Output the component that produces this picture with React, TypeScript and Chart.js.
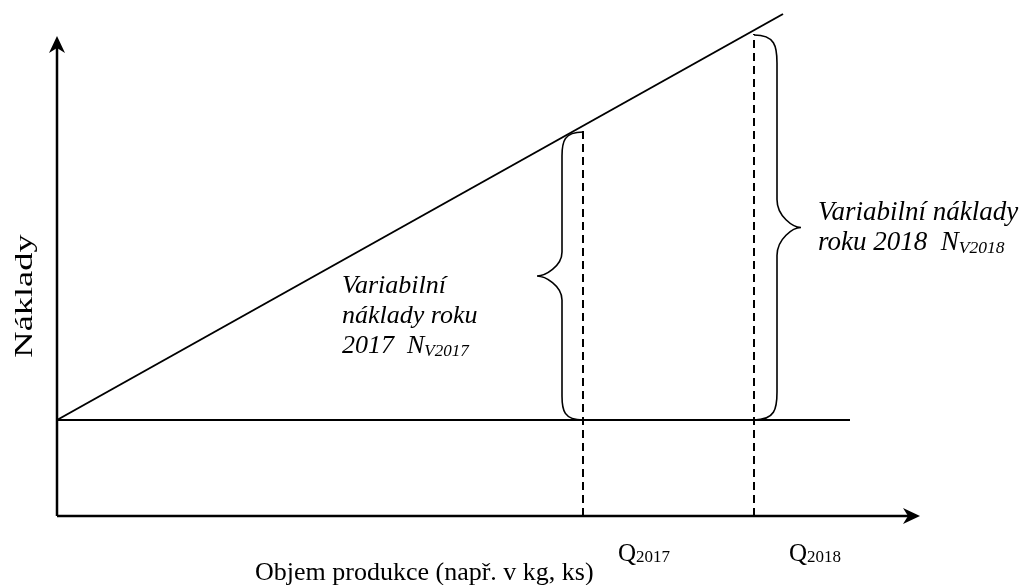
import React, { useEffect, useRef } from "react";
import { Chart, registerables } from "chart.js";

Chart.register(...registerables);

// ---- data (units: volume on x, cost on y; origin at the axes' corner) ----
const Q_YEARS = ["2017", "2018"];
const Q_VOLUMES = [526, 697];
const Q_COST_AT_LINE = [385, 482];
const BRACE_TOP_COST = [384, 481];
const FIXED_COST = 96;
const TOTAL_LINE_X = [0, 726];
const TOTAL_LINE_Y = [96, 502];
const FIXED_LINE_X = [0, 793];
const AXIS_X_END = 863;
const AXIS_Y_END = 480;

const X_MIN = -57;
const X_MAX = 967;
const Y_MIN = -69;
const Y_MAX = 516;

const FONT = '"Liberation Serif", "Times New Roman", serif';

const pts = (xs: number[], ys: number[]) => xs.map((x, i) => ({ x, y: ys[i] }));

const annotationPlugin = {
  id: "annotations",
  afterDatasetsDraw(chart: any) {
    const ctx: CanvasRenderingContext2D = chart.ctx;
    const xs = chart.scales.x;
    const ys = chart.scales.y;
    const px = (v: number) => xs.getPixelForValue(v);
    const py = (v: number) => ys.getPixelForValue(v);
    ctx.save();
    ctx.fillStyle = "#000";
    ctx.strokeStyle = "#000";

    // arrowheads
    const ox = px(0);
    const oy = py(0);
    const ty = py(AXIS_Y_END);
    ctx.beginPath();
    ctx.moveTo(ox, ty);
    ctx.lineTo(ox + 8, ty + 17);
    ctx.lineTo(ox, ty + 12);
    ctx.lineTo(ox - 8, ty + 17);
    ctx.closePath();
    ctx.fill();
    const tx = px(AXIS_X_END);
    ctx.beginPath();
    ctx.moveTo(tx, oy);
    ctx.lineTo(tx - 17, oy - 8);
    ctx.lineTo(tx - 12, oy);
    ctx.lineTo(tx - 17, oy + 8);
    ctx.closePath();
    ctx.fill();

    // braces
    const brace = (xEnd: number, yTop: number, yBot: number, dir: number, depth: number, tip: number, r: number) => {
      const xv = xEnd + dir * depth;
      const xt = xEnd + dir * tip;
      const ym = (yTop + yBot) / 2;
      ctx.beginPath();
      ctx.moveTo(xEnd, yTop);
      ctx.bezierCurveTo(xv - dir * 2, yTop, xv, yTop + r * 0.4, xv, yTop + r);
      ctx.lineTo(xv, ym - r);
      ctx.bezierCurveTo(xv, ym - r * 0.4, xt - dir * 8, ym, xt, ym);
      ctx.bezierCurveTo(xt - dir * 8, ym, xv, ym + r * 0.4, xv, ym + r);
      ctx.lineTo(xv, yBot - r);
      ctx.bezierCurveTo(xv, yBot - r * 0.4, xv - dir * 2, yBot, xEnd, yBot);
      ctx.lineWidth = 1.6;
      ctx.stroke();
    };
    brace(px(Q_VOLUMES[0]), py(BRACE_TOP_COST[0]), py(FIXED_COST), -1, 21, 46, 24);
    brace(px(Q_VOLUMES[1]), py(BRACE_TOP_COST[1]), py(FIXED_COST), 1, 23, 47, 28);

    // rich text helper
    const rich = (x: number, y: number, parts: [string, number, number][], italic: boolean) => {
      let cx = x;
      ctx.textBaseline = "alphabetic";
      ctx.textAlign = "left";
      for (const [t, size, dy] of parts) {
        ctx.font = `${italic ? "italic " : ""}${size}px ${FONT}`;
        ctx.fillText(t, cx, y + dy);
        cx += ctx.measureText(t).width;
      }
    };

    // Q labels
    Q_YEARS.forEach((yr, i) => {
      rich(px(Q_VOLUMES[i]) + 35, 561, [["Q", 25, 0], [yr, 17, 1]], false);
    });

    // variable cost labels
    rich(342, 293, [["Variabilní", 26, 0]], true);
    rich(342, 323, [["náklady roku", 26, 0]], true);
    rich(342, 353, [["2017  N", 26, 0], ["V2017", 17, 3]], true);

    rich(818, 220, [["Variabilní náklady", 27, 0]], true);
    rich(818, 250, [["roku 2018  N", 27, 0], ["V2018", 17.5, 3]], true);

    // axis titles
    ctx.font = `26px ${FONT}`;
    ctx.textAlign = "left";
    ctx.textBaseline = "alphabetic";
    ctx.fillText("Objem produkce (např. v kg, ks)", 255, 580);

    ctx.save();
    ctx.translate(32, 296);
    ctx.rotate(-Math.PI / 2);
    ctx.scale(1.4, 1);
    ctx.textAlign = "center";
    ctx.font = `26px ${FONT}`;
    ctx.fillText("Náklady", 0, 0);
    ctx.restore();

    ctx.restore();
  },
};

export default function App() {
  const ref = useRef<HTMLCanvasElement>(null);
  useEffect(() => {
    document.body.style.margin = "0";
    const line = (data: any[], extra: any = {}) => ({
      data,
      borderColor: "#000",
      borderWidth: 2,
      pointRadius: 0,
      showLine: true,
      fill: false,
      clip: false,
      tension: 0,
      ...extra,
    });
    const chart = new Chart(ref.current!, {
      type: "scatter",
      data: {
        datasets: [
          line(pts([0, 0], [0, AXIS_Y_END - 12]), { borderWidth: 2.5 }),
          line(pts([0, AXIS_X_END - 12], [0, 0]), { borderWidth: 2.5 }),
          line(pts(TOTAL_LINE_X, TOTAL_LINE_Y)),
          line(pts(FIXED_LINE_X, [FIXED_COST, FIXED_COST])),
          ...Q_VOLUMES.map((q, i) =>
            line(pts([q, q], [0, Q_COST_AT_LINE[i]]), { borderDash: [8, 5] })
          ),
        ],
      },
      options: {
        animation: false,
        responsive: true,
        maintainAspectRatio: false,
        layout: { padding: 0 },
        plugins: { legend: { display: false }, tooltip: { enabled: false } },
        scales: {
          x: { type: "linear", min: X_MIN, max: X_MAX, display: false },
          y: { type: "linear", min: Y_MIN, max: Y_MAX, display: false },
        },
      },
      plugins: [annotationPlugin],
    });
    return () => chart.destroy();
  }, []);
  return (
    <div style={{ position: "fixed", left: 0, top: 0, width: 1024, height: 585, background: "#fff" }}>
      <canvas ref={ref} />
    </div>
  );
}
